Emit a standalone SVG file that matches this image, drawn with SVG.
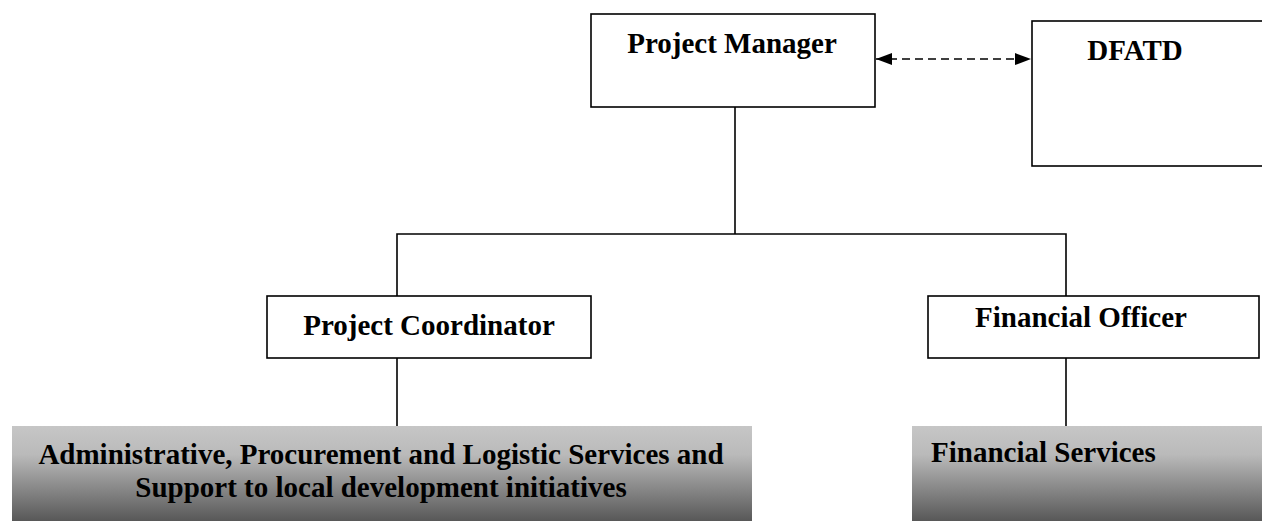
<svg xmlns="http://www.w3.org/2000/svg" width="1262" height="521" viewBox="0 0 1262 521">
<style>
.box{fill:#ffffff;stroke:#000000;stroke-width:1.6}
.lbl{font-family:"Liberation Serif","Times New Roman",serif;font-weight:bold;font-size:29px;fill:#000000}
.ln{stroke:#000000;stroke-width:1.6;fill:none}
.dash{stroke:#000000;stroke-width:1.6;fill:none;stroke-dasharray:8 5}
</style>
<defs>
<linearGradient id="g" x1="0" y1="0" x2="0" y2="1">
<stop offset="0" stop-color="#c6c6c6"/>
<stop offset="0.3" stop-color="#bababa"/>
<stop offset="1" stop-color="#585858"/>
</linearGradient>
<marker id="ah" markerWidth="16" markerHeight="12" refX="16" refY="6" orient="auto-start-reverse" markerUnits="userSpaceOnUse">
<path d="M0,0 L16,6 L0,12 Z" fill="#000000"/>
</marker>
</defs>
<g id="connectors">
<line class="ln" x1="735" y1="107" x2="735" y2="234"/>
<polyline class="ln" points="397,296 397,234 1066,234 1066,296"/>
<line class="ln" x1="397" y1="358" x2="397" y2="426"/>
<line class="ln" x1="1066" y1="358" x2="1066" y2="426"/>
<line class="dash" x1="876" y1="59" x2="1031" y2="59" marker-start="url(#ah)" marker-end="url(#ah)"/>
</g>
<g id="project-manager">
<rect class="box" x="591" y="14" width="284" height="93"/>
<text class="lbl" x="732" y="53" text-anchor="middle">Project Manager</text>
</g>
<g id="dfatd">
<rect class="box" x="1032" y="21" width="250" height="145"/>
<text class="lbl" x="1135" y="60" text-anchor="middle">DFATD</text>
</g>
<g id="project-coordinator">
<rect class="box" x="267" y="296" width="324" height="62"/>
<text class="lbl" x="429" y="335" text-anchor="middle">Project Coordinator</text>
</g>
<g id="financial-officer">
<rect class="box" x="928" y="296" width="331" height="62"/>
<text class="lbl" x="1081" y="327" text-anchor="middle">Financial Officer</text>
</g>
<g id="admin-services">
<rect x="12" y="426" width="740" height="95" fill="url(#g)"/>
<text class="lbl" x="381" y="464" text-anchor="middle">Administrative, Procurement and Logistic Services and</text>
<text class="lbl" x="381" y="497" text-anchor="middle">Support to local development initiatives</text>
</g>
<g id="financial-services">
<rect x="912" y="426" width="350" height="95" fill="url(#g)"/>
<text class="lbl" x="931" y="462">Financial Services</text>
</g>
</svg>
